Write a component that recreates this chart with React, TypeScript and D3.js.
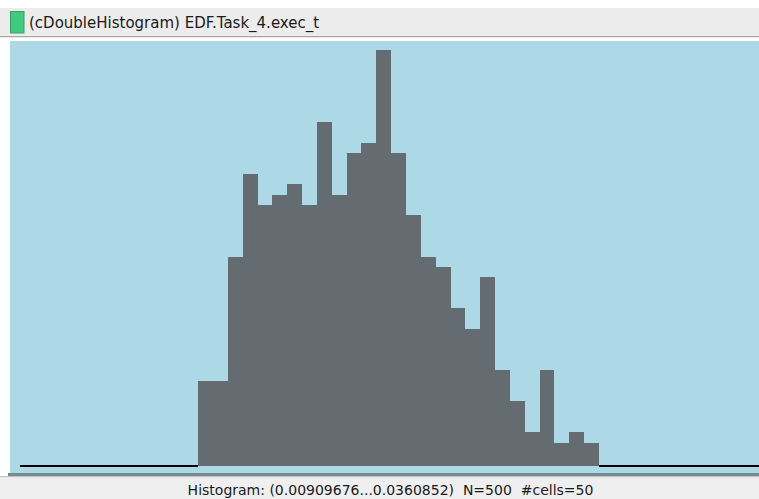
import React from "react";
import * as d3 from "d3";

const titleText = "(cDoubleHistogram) EDF.Task_4.exec_t";
const footerText = "Histogram: (0.00909676...0.0360852)  N=500  #cells=50";

// counts per cell (50 cells)
const cellIndex: number[] = d3.range(50);
const counts: number[] = [
  0, 0, 0, 0, 0, 0, 0, 0, 0, 0,
  0, 0, 8, 8, 20, 28, 25, 26, 27, 25,
  33, 26, 30, 31, 40, 30, 24, 20, 19, 15,
  13, 18, 9, 6, 3, 9, 2, 3, 2, 0,
  0, 0, 0, 0, 0, 0, 0, 0, 0, 0,
];

export default function App() {
  const W = 759;
  const H = 499;
  const x = d3.scaleLinear().domain([0, 50]).range([20, 762.3]);
  const y = d3.scaleLinear().domain([0, 40]).range([463.4, 50]);
  const baseY = 466;

  return (
    <svg
      width={W}
      height={H}
      style={{ position: "absolute", left: 0, top: 0, display: "block" }}
      fontFamily="'DejaVu Sans', sans-serif"
    >
      <rect x={0} y={0} width={W} height={H} fill="#ffffff" />
      {/* title bar */}
      <rect x={0} y={8} width={W} height={28} fill="#ececec" />
      <rect x={0} y={36} width={W} height={1.3} fill="#a8a8a8" />
      <rect x={10.5} y={11.5} width={13.5} height={21.5} fill="#41c97e" stroke="#30a563" strokeWidth={1} />
      <text x={29} y={28} fontSize={15} fill="#1a1a1a" style={{ whiteSpace: "pre" }}>{titleText}</text>

      {/* plot area */}
      <rect x={10} y={41} width={W - 10} height={432} fill="#add8e6" />
      <g shapeRendering="crispEdges">
        {cellIndex.map((i) =>
          counts[i] > 0 ? (
            <rect
              key={i}
              x={x(i)}
              y={y(counts[i])}
              width={x(i + 1) - x(i)}
              height={baseY - y(counts[i])}
              fill="#646c72"
            />
          ) : (
            <line
              key={i}
              x1={x(i)}
              x2={x(i + 1)}
              y1={baseY}
              y2={baseY}
              stroke="#000000"
              strokeWidth={2}
            />
          )
        )}
      </g>

      {/* bottom frame */}
      <rect x={8} y={473} width={W - 8} height={3} fill="#778a92" />
      <rect x={0} y={476} width={W} height={1.5} fill="#c4c4c4" />
      <rect x={0} y={477.5} width={W} height={H - 477.5} fill="#efefef" />
      <text x={390.5} y={495} fontSize={14} fill="#1a1a1a" textAnchor="middle" style={{ whiteSpace: "pre" }}>{footerText}</text>
    </svg>
  );
}
